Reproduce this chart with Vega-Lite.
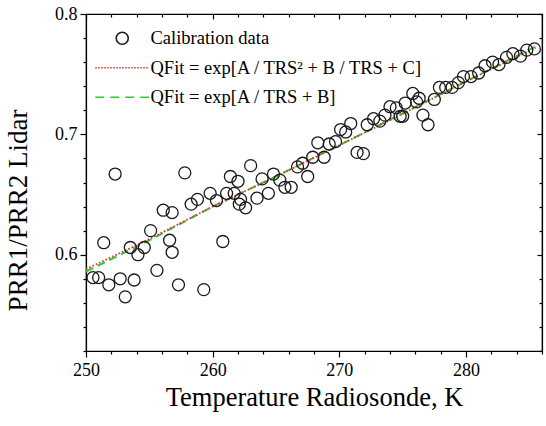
{
  "$schema": "https://vega.github.io/schema/vega-lite/v6.json",
  "width": 456,
  "height": 337,
  "autosize": {"type": "none"},
  "padding": {"left": 86, "top": 14, "right": 4, "bottom": 75},
  "background": "white",
  "config": {
    "view": {"stroke": "black", "strokeWidth": 1.2},
    "font": "Liberation Serif",
    "axis": {
      "grid": false,
      "domainColor": "black",
      "domainWidth": 1.2,
      "tickColor": "black",
      "tickWidth": 1.2,
      "labelColor": "black",
      "titleColor": "black",
      "labelFont": "Liberation Serif",
      "titleFont": "Liberation Serif",
      "titleFontWeight": "normal",
      "labelFlush": false,
      "labelOverlap": false
    },
    "legend": {
      "labelFont": "Liberation Serif",
      "titleFont": "Liberation Serif"
    }
  },
  "datasets": {
    "points": [
      {"T": 250.55, "Q": 0.581, "series": "Calibration data"},
      {"T": 251.0, "Q": 0.581, "series": "Calibration data"},
      {"T": 251.4, "Q": 0.610, "series": "Calibration data"},
      {"T": 251.8, "Q": 0.575, "series": "Calibration data"},
      {"T": 252.3, "Q": 0.667, "series": "Calibration data"},
      {"T": 252.7, "Q": 0.580, "series": "Calibration data"},
      {"T": 253.1, "Q": 0.565, "series": "Calibration data"},
      {"T": 253.5, "Q": 0.606, "series": "Calibration data"},
      {"T": 253.8, "Q": 0.579, "series": "Calibration data"},
      {"T": 254.1, "Q": 0.600, "series": "Calibration data"},
      {"T": 254.6, "Q": 0.606, "series": "Calibration data"},
      {"T": 255.1, "Q": 0.620, "series": "Calibration data"},
      {"T": 255.6, "Q": 0.587, "series": "Calibration data"},
      {"T": 256.1, "Q": 0.637, "series": "Calibration data"},
      {"T": 256.6, "Q": 0.612, "series": "Calibration data"},
      {"T": 256.8, "Q": 0.635, "series": "Calibration data"},
      {"T": 256.8, "Q": 0.602, "series": "Calibration data"},
      {"T": 257.3, "Q": 0.575, "series": "Calibration data"},
      {"T": 257.8, "Q": 0.668, "series": "Calibration data"},
      {"T": 258.3, "Q": 0.642, "series": "Calibration data"},
      {"T": 258.8, "Q": 0.646, "series": "Calibration data"},
      {"T": 259.3, "Q": 0.571, "series": "Calibration data"},
      {"T": 259.8, "Q": 0.651, "series": "Calibration data"},
      {"T": 260.3, "Q": 0.645, "series": "Calibration data"},
      {"T": 260.8, "Q": 0.611, "series": "Calibration data"},
      {"T": 261.1, "Q": 0.651, "series": "Calibration data"},
      {"T": 261.4, "Q": 0.665, "series": "Calibration data"},
      {"T": 261.7, "Q": 0.651, "series": "Calibration data"},
      {"T": 262.0, "Q": 0.661, "series": "Calibration data"},
      {"T": 262.1, "Q": 0.642, "series": "Calibration data"},
      {"T": 262.2, "Q": 0.646, "series": "Calibration data"},
      {"T": 262.6, "Q": 0.639, "series": "Calibration data"},
      {"T": 263.0, "Q": 0.674, "series": "Calibration data"},
      {"T": 263.5, "Q": 0.647, "series": "Calibration data"},
      {"T": 263.9, "Q": 0.663, "series": "Calibration data"},
      {"T": 264.4, "Q": 0.651, "series": "Calibration data"},
      {"T": 264.8, "Q": 0.667, "series": "Calibration data"},
      {"T": 265.3, "Q": 0.662, "series": "Calibration data"},
      {"T": 265.7, "Q": 0.656, "series": "Calibration data"},
      {"T": 266.2, "Q": 0.656, "series": "Calibration data"},
      {"T": 266.7, "Q": 0.673, "series": "Calibration data"},
      {"T": 267.1, "Q": 0.676, "series": "Calibration data"},
      {"T": 267.5, "Q": 0.665, "series": "Calibration data"},
      {"T": 267.9, "Q": 0.681, "series": "Calibration data"},
      {"T": 268.3, "Q": 0.693, "series": "Calibration data"},
      {"T": 268.8, "Q": 0.681, "series": "Calibration data"},
      {"T": 269.2, "Q": 0.692, "series": "Calibration data"},
      {"T": 269.7, "Q": 0.694, "series": "Calibration data"},
      {"T": 270.1, "Q": 0.704, "series": "Calibration data"},
      {"T": 270.5, "Q": 0.702, "series": "Calibration data"},
      {"T": 270.9, "Q": 0.709, "series": "Calibration data"},
      {"T": 271.4, "Q": 0.685, "series": "Calibration data"},
      {"T": 271.9, "Q": 0.684, "series": "Calibration data"},
      {"T": 272.2, "Q": 0.708, "series": "Calibration data"},
      {"T": 272.7, "Q": 0.713, "series": "Calibration data"},
      {"T": 273.2, "Q": 0.711, "series": "Calibration data"},
      {"T": 273.6, "Q": 0.716, "series": "Calibration data"},
      {"T": 274.0, "Q": 0.723, "series": "Calibration data"},
      {"T": 274.5, "Q": 0.722, "series": "Calibration data"},
      {"T": 274.8, "Q": 0.715, "series": "Calibration data"},
      {"T": 275.0, "Q": 0.715, "series": "Calibration data"},
      {"T": 275.2, "Q": 0.726, "series": "Calibration data"},
      {"T": 275.8, "Q": 0.734, "series": "Calibration data"},
      {"T": 276.1, "Q": 0.727, "series": "Calibration data"},
      {"T": 276.3, "Q": 0.730, "series": "Calibration data"},
      {"T": 276.6, "Q": 0.716, "series": "Calibration data"},
      {"T": 277.0, "Q": 0.708, "series": "Calibration data"},
      {"T": 277.5, "Q": 0.729, "series": "Calibration data"},
      {"T": 277.9, "Q": 0.739, "series": "Calibration data"},
      {"T": 278.4, "Q": 0.739, "series": "Calibration data"},
      {"T": 278.9, "Q": 0.739, "series": "Calibration data"},
      {"T": 279.4, "Q": 0.743, "series": "Calibration data"},
      {"T": 279.8, "Q": 0.748, "series": "Calibration data"},
      {"T": 280.4, "Q": 0.748, "series": "Calibration data"},
      {"T": 281.0, "Q": 0.751, "series": "Calibration data"},
      {"T": 281.5, "Q": 0.757, "series": "Calibration data"},
      {"T": 282.1, "Q": 0.760, "series": "Calibration data"},
      {"T": 282.6, "Q": 0.758, "series": "Calibration data"},
      {"T": 283.2, "Q": 0.764, "series": "Calibration data"},
      {"T": 283.7, "Q": 0.767, "series": "Calibration data"},
      {"T": 284.3, "Q": 0.765, "series": "Calibration data"},
      {"T": 284.8, "Q": 0.770, "series": "Calibration data"},
      {"T": 285.4, "Q": 0.771, "series": "Calibration data"}
    ],
    "fit": [
      {"T": 250, "red": 0.588, "green": 0.586},
      {"T": 255, "red": 0.613, "green": 0.612},
      {"T": 260, "red": 0.640, "green": 0.640},
      {"T": 265, "red": 0.665, "green": 0.665},
      {"T": 270, "red": 0.691, "green": 0.691},
      {"T": 275, "red": 0.717, "green": 0.7175},
      {"T": 280, "red": 0.744, "green": 0.744},
      {"T": 285.5, "red": 0.772, "green": 0.773}
    ]
  },
  "layer": [
    {
      "data": {"name": "fit"},
      "mark": {"type": "line", "color": "#2ecc2e", "strokeDash": [8, 5], "strokeWidth": 2},
      "encoding": {
        "x": {"field": "T", "type": "quantitative", "scale": {"domain": [250, 286], "nice": false, "zero": false}, "axis": null},
        "y": {"field": "green", "type": "quantitative", "scale": {"domain": [0.52, 0.8], "nice": false, "zero": false}, "axis": null}
      }
    },
    {
      "data": {"name": "fit"},
      "mark": {"type": "line", "color": "#e8303a", "strokeDash": [1.6, 2], "strokeWidth": 1.8},
      "encoding": {
        "x": {
          "field": "T", "type": "quantitative",
          "scale": {"domain": [250, 286], "nice": false, "zero": false},
          "axis": {
            "orient": "top", "title": null, "labels": false,
            "values": [250, 252, 254, 256, 258, 260, 262, 264, 266, 268, 270, 272, 274, 276, 278, 280, 282, 284, 286],
            "tickSize": {"condition": {"test": "datum.value % 10 === 0", "value": -5}, "value": -3}
          }
        },
        "y": {
          "field": "red", "type": "quantitative",
          "scale": {"domain": [0.52, 0.8], "nice": false, "zero": false},
          "axis": {
            "orient": "right", "title": null, "labels": false,
            "values": [0.52, 0.54, 0.56, 0.58, 0.6, 0.62, 0.64, 0.66, 0.68, 0.7, 0.72, 0.74, 0.76, 0.78, 0.8],
            "tickSize": {"condition": {"test": "abs(datum.value*10 - round(datum.value*10)) < 0.001", "value": -5}, "value": -3}
          }
        }
      }
    },
    {
      "data": {"name": "points"},
      "mark": {"type": "point", "filled": false, "size": 144, "strokeWidth": 1.3, "opacity": 1},
      "encoding": {
        "x": {
          "field": "T", "type": "quantitative",
          "scale": {"domain": [250, 286], "nice": false, "zero": false},
          "axis": {
            "orient": "bottom",
            "values": [250, 252, 254, 256, 258, 260, 262, 264, 266, 268, 270, 272, 274, 276, 278, 280, 282, 284, 286],
            "labelExpr": "datum.value % 10 === 0 ? datum.label : ''",
            "tickSize": {"condition": {"test": "datum.value % 10 === 0", "value": 6}, "value": 3},
            "labelFont": "Liberation Serif",
            "labelFontSize": 18,
            "labelPadding": 4,
            "title": "Temperature Radiosonde, K",
            "titleFont": "Liberation Serif",
            "titleFontSize": 26.5,
            "titlePadding": 5
          }
        },
        "y": {
          "field": "Q", "type": "quantitative",
          "scale": {"domain": [0.52, 0.8], "nice": false, "zero": false},
          "axis": {
            "orient": "left",
            "values": [0.52, 0.54, 0.56, 0.58, 0.6, 0.62, 0.64, 0.66, 0.68, 0.7, 0.72, 0.74, 0.76, 0.78, 0.8],
            "labelExpr": "abs(datum.value*10 - round(datum.value*10)) < 0.001 ? format(datum.value, '.1f') : ''",
            "tickSize": {"condition": {"test": "abs(datum.value*10 - round(datum.value*10)) < 0.001", "value": 6}, "value": 3},
            "labelFont": "Liberation Serif",
            "labelFontSize": 18,
            "labelPadding": 3,
            "title": "PRR1/PRR2 Lidar",
            "titleFont": "Liberation Serif",
            "titleFontSize": 27,
            "titleX": -54,
            "titleY": 196
          }
        },
        "color": {
          "field": "series", "type": "nominal",
          "scale": {
            "domain": ["Calibration data", "QFit = exp[A / TRS² + B / TRS + C]", "QFit = exp[A / TRS + B]"],
            "range": ["#1a1a1a", "#e8303a", "#2ecc2e"]
          },
          "legend": {
            "title": null,
            "orient": "none",
            "legendX": 27,
            "legendY": 15,
            "padding": 0,
            "symbolSize": 144,
            "symbolStrokeWidth": 1.6,
            "labelFont": "Liberation Serif",
            "labelFontSize": 18.5,
            "labelColor": "black",
            "labelOffset": 19,
            "rowPadding": 10.5,
            "labelLimit": 400
          }
        },
        "shape": {
          "field": "series", "type": "nominal",
          "scale": {
            "domain": ["Calibration data", "QFit = exp[A / TRS² + B / TRS + C]", "QFit = exp[A / TRS + B]"],
            "range": [
              "M1,0A1,1,0,1,1,-1,0A1,1,0,1,1,1,0Z",
              "M-4.5,0h0.25M-4,0h0.25M-3.5,0h0.25M-3,0h0.25M-2.5,0h0.25M-2,0h0.25M-1.5,0h0.25M-1,0h0.25M-0.5,0h0.25M0,0h0.25M0.5,0h0.25M1,0h0.25M1.5,0h0.25M2,0h0.25M2.5,0h0.25M3,0h0.25M3.5,0h0.25M4,0h0.25",
              "M-4.5,0H-3M-2,0H-0.5M0.5,0H2M3,0H4.5"
            ]
          }
        }
      }
    }
  ],
  "resolve": {"axis": {"x": "independent", "y": "independent"}}
}
